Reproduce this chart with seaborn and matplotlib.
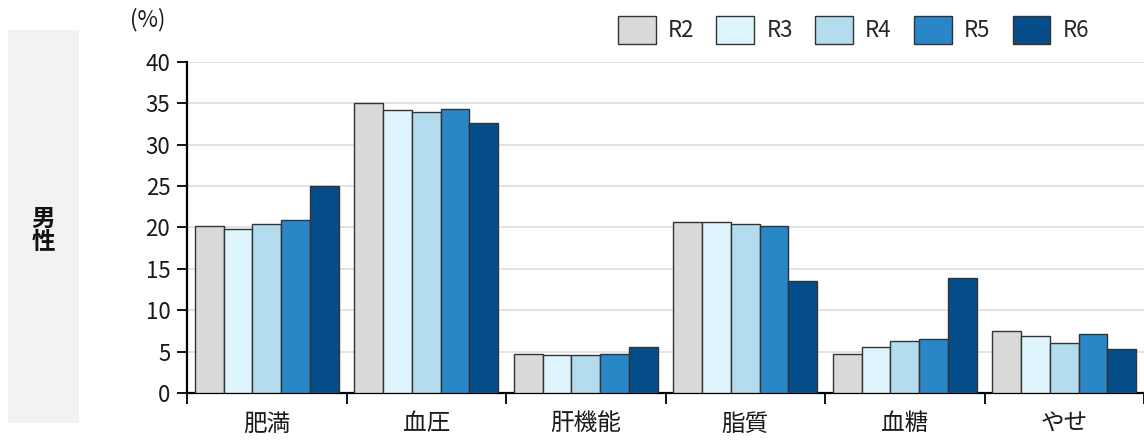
import matplotlib
matplotlib.use("Agg")
import matplotlib.pyplot as plt
import seaborn as sns
import pandas as pd
from matplotlib.patches import Patch, Rectangle

categories = ["肥満", "血圧", "肝機能", "脂質", "血糖", "やせ"]
years = ["R2", "R3", "R4", "R5", "R6"]
r2 = [20.2, 35.0, 4.75, 20.65, 4.7, 7.45]
r3 = [19.8, 34.2, 4.55, 20.7, 5.6, 6.9]
r4 = [20.4, 33.9, 4.55, 20.45, 6.3, 6.05]
r5 = [20.85, 34.35, 4.7, 20.2, 6.5, 7.1]
r6 = [25.0, 32.6, 5.5, 13.55, 13.9, 5.3]
colors = ["#D9D9D9", "#DDF4FC", "#B4DCEF", "#2986C7", "#054E8A"]

rows = []
for y, vals in zip(years, [r2, r3, r4, r5, r6]):
    for c, v in zip(categories, vals):
        rows.append({"cat": c, "year": y, "val": v})
df = pd.DataFrame(rows)

sns.set_theme(style="white")
plt.rcParams["font.family"] = ["Noto Sans CJK JP", "DejaVu Sans"]

fig = plt.figure(figsize=(11.44, 4.44), dpi=100)
ax = fig.add_axes([187/1144, 51/444, 957/1144, 331/444])

sns.barplot(data=df, x="cat", y="val", hue="year", hue_order=years,
            order=categories, palette=colors, width=0.9, saturation=1,
            edgecolor="#333333", linewidth=1.0, ax=ax, legend=False, zorder=3)

ax.set_ylim(0, 40)
ax.set_xlim(-0.5, -0.5 + 957/161)
ax.set_yticks(range(0, 41, 5))
ax.yaxis.grid(True, color="#E0E0E0", linewidth=1.3, zorder=0)
ax.set_axisbelow(True)
ax.set_xlabel("")
ax.set_ylabel("")
for s in ["top", "right"]:
    ax.spines[s].set_visible(False)
for s in ["left", "bottom"]:
    ax.spines[s].set_color("black")
    ax.spines[s].set_linewidth(1.6)

ax.tick_params(axis="y", which="major", length=7, width=1.3, color="black",
               direction="out", labelsize=16, pad=5, left=True)
ax.set_xticks(range(len(categories)))
ax.set_xticklabels(categories)
ax.tick_params(axis="x", which="major", length=0, labelsize=17, pad=14)
ax.set_xticks([i - 0.5 for i in range(len(categories) + 1)], minor=True)
ax.tick_params(axis="x", which="minor", length=8, width=1.3, color="black",
               direction="out", bottom=True)
for lab in ax.get_yticklabels() + ax.get_xticklabels():
    lab.set_color("#1a1a1a")

# left gray panel
fig.patches.append(Rectangle((8/1144, 21/444), 71/1144, 393/444,
                             transform=fig.transFigure, facecolor="#F2F2F2",
                             edgecolor="none", zorder=0))
fig.text(43/1144, 1 - 230/444, "男\n性", ha="center", va="center",
         fontsize=17, fontweight="bold", linespacing=0.95, color="#111111")
fig.text(148/1144, 1 - 20/444, "(%)", ha="center", va="center",
         fontsize=16, color="#1a1a1a")

handles = [Patch(facecolor=c, edgecolor="#333333", linewidth=1.0) for c in colors]
fig.legend(handles, years, loc="center right", bbox_to_anchor=(1098/1144, 1 - 30/444),
           ncol=5, frameon=False, fontsize=16, handlelength=1.7, handleheight=1.5,
           handletextpad=0.55, columnspacing=1.0, borderaxespad=0)

fig.savefig("out.png", dpi=100)
